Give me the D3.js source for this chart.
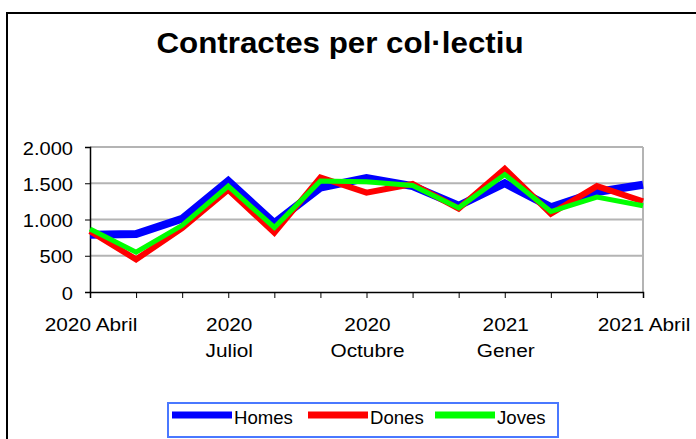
<!DOCTYPE html>
<html><head><meta charset="utf-8">
<script src="https://cdn.jsdelivr.net/npm/d3@7"></script>
<style>body{margin:0;background:#fff}svg{display:block}</style>
</head><body>
<svg id="c" width="696" height="439"></svg>
<script>
const months = ["2020 Abril","2020 Maig","2020 Juny","2020 Juliol","2020 Agost","2020 Setembre","2020 Octubre","2020 Novembre","2020 Desembre","2021 Gener","2021 Febrer","2021 Març","2021 Abril"];
const tickLabels = {"2020 Abril":["2020 Abril"],"2020 Juliol":["2020","Juliol"],"2020 Octubre":["2020","Octubre"],"2021 Gener":["2021","Gener"],"2021 Abril":["2021 Abril"]};
const homes = [790, 800, 1010, 1530, 950, 1440, 1570, 1460, 1190, 1500, 1170, 1380, 1480];
const dones = [840, 450, 880, 1410, 820, 1580, 1370, 1490, 1150, 1700, 1080, 1460, 1250];
const joves = [870, 550, 920, 1460, 890, 1530, 1520, 1470, 1160, 1620, 1110, 1310, 1190];
const yTicks = [0, 500, 1000, 1500, 2000];
const seriesNames = ["Homes","Dones","Joves"];

const svg = d3.select("#c");
const font = "Arial, 'Liberation Sans', sans-serif";
svg.append("rect").attr("x",7).attr("y",13).attr("width",720).attr("height",460)
  .attr("fill","none").attr("stroke","#000").attr("stroke-width",2);

svg.append("text").attr("transform","translate(340,53) scale(1.08,1)").attr("text-anchor","middle")
  .attr("font-family",font).attr("font-weight","bold").attr("font-size",29).text("Contractes per col·lectiu");

const x = d3.scalePoint().domain(months).range([90,643]);
const y = d3.scaleLinear().domain([0,2000]).range([292,147]);

// gridlines
svg.append("g").selectAll("line").data(yTicks.filter(d=>d>0)).join("line")
  .attr("x1",90).attr("x2",643).attr("y1",d=>y(d)).attr("y2",d=>y(d))
  .attr("stroke","#b4b4b4").attr("stroke-width",2);
svg.append("line").attr("x1",643).attr("x2",643).attr("y1",y(2000)).attr("y2",y(0))
  .attr("stroke","#b4b4b4").attr("stroke-width",2);

// y axis
const ya = svg.append("g").attr("transform","translate(90,0)")
  .call(d3.axisLeft(y).tickValues(yTicks).tickSize(5).tickFormat(""));
ya.select(".domain").attr("stroke","#000").attr("stroke-width",1.5);
ya.selectAll(".tick line").attr("stroke","#000");
svg.append("g").selectAll("text").data(yTicks).join("text")
  .attr("transform",d=>`translate(73,${y(d)+7.5}) scale(1.08,1)`)
  .attr("text-anchor","end").attr("font-family",font).attr("font-size",18.6).attr("fill","#000")
  .text(d=>d3.format(",")(d).replace(/,/g,"."));

// x axis
const xa = svg.append("g").attr("transform","translate(0,292)")
  .call(d3.axisBottom(x).tickSize(6).tickFormat(""));
xa.select(".domain").attr("stroke","#000").attr("stroke-width",1.5);
xa.selectAll(".tick line").attr("stroke","#000");
const lbl = svg.append("g");
months.forEach(m=>{
  if(!tickLabels[m]) return;
  tickLabels[m].forEach((s,i)=>{
    lbl.append("text").attr("transform",`translate(${x(m)+1},${331+i*26}) scale(1.12,1)`)
      .attr("text-anchor","middle").attr("font-family",font).attr("font-size",18.6)
      .attr("fill","#000").text(s);
  });
});

const line = d3.line().x((d,i)=>x(months[i])).y(d=>y(d));
const series = [[homes,"#0000ff",8],[dones,"#ff0000",6],[joves,"#00ff00",5]];
series.forEach(([vals,col,w])=>{
  svg.append("path").datum(vals).attr("d",line).attr("fill","none")
    .attr("stroke",col).attr("stroke-width",w).attr("stroke-linejoin","miter");
});

// legend
svg.append("rect").attr("x",168).attr("y",403).attr("width",390).attr("height",34)
  .attr("fill","#fff").attr("stroke","#4a78ff").attr("stroke-width",2);
const lx = [172,308,435];
seriesNames.forEach((n,i)=>{
  svg.append("line").attr("x1",lx[i]).attr("x2",lx[i]+60).attr("y1",415).attr("y2",415)
    .attr("stroke",series[i][1]).attr("stroke-width",7);
  svg.append("text").attr("x",lx[i]+62).attr("y",424).attr("font-family",font)
    .attr("font-size",18.6).attr("fill","#000").text(n);
});
</script>
</body></html>
